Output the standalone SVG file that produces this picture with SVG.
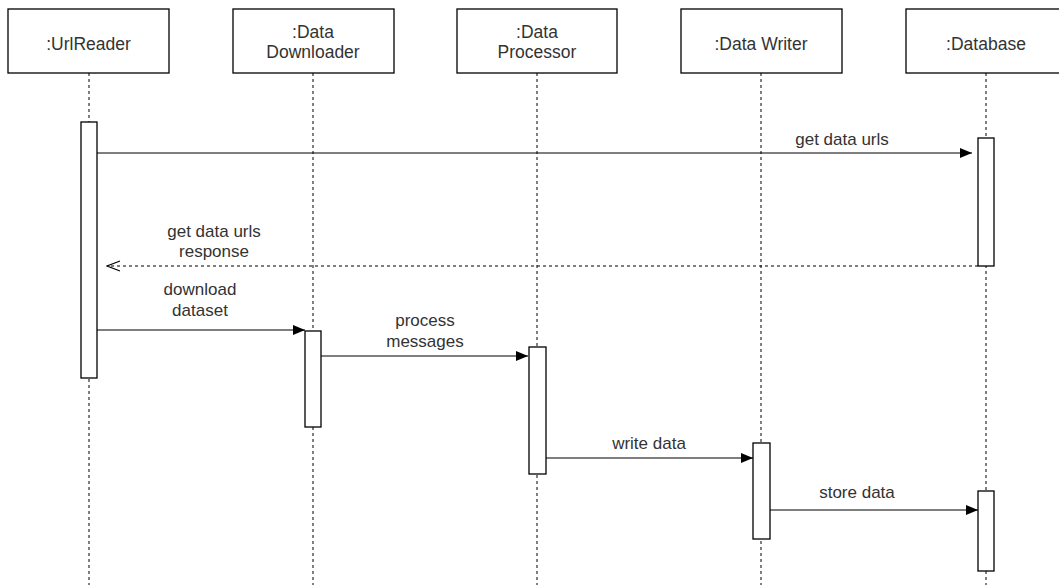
<svg xmlns="http://www.w3.org/2000/svg" width="1059" height="585" viewBox="0 0 1059 585">
<style>
.box{fill:#fff;stroke:#000;stroke-width:1.3}
.life{stroke:#000;stroke-width:1;stroke-dasharray:3 3;fill:none}
.act{fill:#fff;stroke:#000;stroke-width:1.3}
.msg{stroke:#000;stroke-width:1.2;fill:none}
.ret{stroke:#000;stroke-width:1.2;fill:none;stroke-dasharray:3 3}
.t{font-family:"Liberation Sans",Arial,sans-serif;font-size:17.5px;fill:#333;text-anchor:middle}
.tl{font-family:"Liberation Sans",Arial,sans-serif;font-size:17px;fill:#333;text-anchor:middle}
</style>
<defs>
<marker id="fa" markerWidth="12" markerHeight="10" refX="12" refY="5" orient="auto" markerUnits="userSpaceOnUse">
<path d="M0,0 L12,5 L0,10 Z" fill="#000"/>
</marker>
<marker id="oa" markerWidth="15" markerHeight="12" refX="14" refY="6" orient="auto" markerUnits="userSpaceOnUse">
<path d="M1,1 L14,6 L1,11" fill="none" stroke="#000" stroke-width="1.2"/>
</marker>
</defs>
<g id="lifelines">
<line class="life" x1="89" y1="73" x2="89" y2="585"/>
<line class="life" x1="313" y1="73" x2="313" y2="585"/>
<line class="life" x1="537" y1="73" x2="537" y2="585"/>
<line class="life" x1="761" y1="73" x2="761" y2="585"/>
<line class="life" x1="986" y1="73" x2="986" y2="585"/>
</g>
<g id="urlreader">
<rect class="box" x="8" y="9" width="161" height="64"/>
<text class="t" x="88.5" y="50">:UrlReader</text>
<rect class="act" x="81" y="122" width="16" height="256"/>
</g>
<g id="datadownloader">
<rect class="box" x="233" y="9" width="161" height="64"/>
<text class="t" x="313" y="38">:Data</text>
<text class="t" x="313" y="58">Downloader</text>
<rect class="act" x="305" y="331" width="16" height="96"/>
</g>
<g id="dataprocessor">
<rect class="box" x="457" y="9" width="160" height="64"/>
<text class="t" x="537" y="38">:Data</text>
<text class="t" x="537" y="58">Processor</text>
<rect class="act" x="529" y="347" width="17" height="127"/>
</g>
<g id="datawriter">
<rect class="box" x="681" y="9" width="161" height="64"/>
<text class="t" x="761" y="50">:Data Writer</text>
<rect class="act" x="753" y="443" width="17" height="96"/>
</g>
<g id="database">
<rect class="box" x="906" y="9" width="161" height="64"/>
<text class="t" x="986" y="50">:Database</text>
<rect class="act" x="978" y="138" width="16" height="128"/>
<rect class="act" x="978" y="491" width="16" height="80"/>
</g>
<g id="connectors">
<line class="msg" x1="97" y1="153" x2="972" y2="153" marker-end="url(#fa)"/>
<text class="tl" x="842" y="145">get data urls</text>
<line class="ret" x1="978" y1="266" x2="107" y2="266" marker-end="url(#oa)"/>
<text class="tl" x="214" y="237">get data urls</text>
<text class="tl" x="214" y="257">response</text>
<line class="msg" x1="97" y1="330" x2="305" y2="330" marker-end="url(#fa)"/>
<text class="tl" x="200" y="295">download</text>
<text class="tl" x="200" y="316">dataset</text>
<line class="msg" x1="321" y1="356" x2="528" y2="356" marker-end="url(#fa)"/>
<text class="tl" x="425" y="326">process</text>
<text class="tl" x="425" y="347">messages</text>
<line class="msg" x1="546" y1="458" x2="753" y2="458" marker-end="url(#fa)"/>
<text class="tl" x="649" y="449">write data</text>
<line class="msg" x1="770" y1="510" x2="978" y2="510" marker-end="url(#fa)"/>
<text class="tl" x="857" y="498">store data</text>
</g>
</svg>
